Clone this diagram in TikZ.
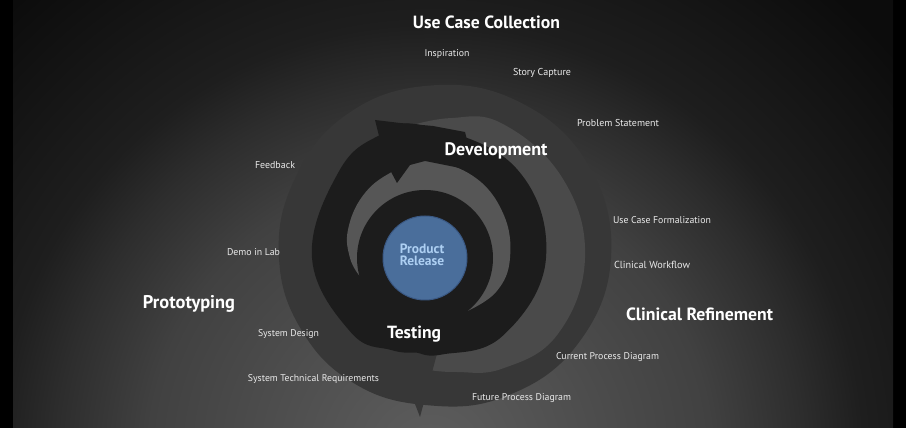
\documentclass[tikz,border=0pt]{standalone}
\usepackage{fontspec}
\setmainfont{PT Sans}
\usetikzlibrary{calc}
\definecolor{bgA}{HTML}{5E5E5E}
\definecolor{bgB}{HTML}{414141}
\definecolor{bgC}{HTML}{2D2D2D}
\definecolor{bgD}{HTML}{1E1E1E}
\definecolor{bgE}{HTML}{0C0C0C}
\definecolor{darkband}{HTML}{373737}
\definecolor{midband}{HTML}{4A4A4A}
\definecolor{blackband}{HTML}{1C1C1C}
\definecolor{crescentc}{HTML}{565656}
\definecolor{bluefill}{HTML}{4A6E9B}
\definecolor{blueedge}{HTML}{3A5883}
\definecolor{bluetext}{HTML}{ADCFF2}
\definecolor{labelc}{HTML}{EAEAEA}
\pgfdeclareradialshading{bgshade}{\pgfpoint{0bp}{0bp}}{color(0bp)=(bgA); color(10.06bp)=(bgB); color(13.35bp)=(bgC); color(15.5bp)=(bgD); color(22bp)=(bgE); color(50bp)=(bgE)}
\newcommand\fitto[2]{\resizebox{#1pt}{!}{#2}}
\tikzset{
  lbl/.style={text=labelc, inner sep=0pt, font=\fontsize{9}{10}\selectfont},
  hdl/.style={text=white, inner sep=0pt, font=\bfseries\fontsize{14}{16}\selectfont},
  prod/.style={text=bluetext, inner sep=0pt, align=center, font=\bfseries\fontsize{13.5}{12}\selectfont}
}
\begin{document}
\begin{tikzpicture}[x=1pt,y=1pt]
\useasboundingbox (0,0) rectangle (906,428);
\fill[black] (0,0) rectangle (906,428);
\begin{scope}
  \clip (13,0) rectangle (893,428);
  \shade[shading=bgshade] (430,-30) circle (700);
\end{scope}
\begin{scope}[shift={(425,170)}]
  % outer dark band
  \fill[darkband] plot[smooth cycle, tension=0.7] coordinates {(-90:147) (-60:160) (-30:175) (0:186) (30:188) (60:182) (90:172) (120:163) (150:152) (180:146) (210:143) (240:144)};
  % medium gray crescent on the right
  \fill[midband] plot[smooth, tension=0.7] coordinates {(100:132) (80:142) (60:155) (30:159) (0:160) (-30:153) (-55:135) (-75:118) (-88:112)} -- (-88:88) arc[start angle=-88, end angle=100, radius=88] -- cycle;
  % dark arrowhead at bottom
  \fill[darkband] (-30,-94) -- (13,-92) -- (-5,-159) -- cycle;
  % black ring
  \fill[blackband] plot[smooth cycle, tension=0.7] coordinates {(-95:95) (-80:98) (-45:110) (0:121) (45:128) (90:132) (110:131) (135:122) (180:113) (225:105) (250:98) (265:95)};
  % inner gray crescent
  \fill[crescentc] plot[smooth, tension=0.7] coordinates {(195:68) (180:75) (160:82) (135:88) (112:92) (90:97) (60:95) (30:90) (0:85) (-25:79) (-51:68)} -- (0,0) -- cycle;
  % black arrowhead at top left
  \fill[blackband] (-50,138) -- (-25,135) -- (8,132) -- (40,126) -- (50,87) -- (0,97) -- (-15,93) -- (-28,75) -- (-36,90) -- (-46,122) -- cycle;
  % inner black disc
  \fill[blackband] (0,0) circle (68);
  % blue centre
  \fill[bluefill, draw=blueedge, line width=1pt] (0,0) circle (42);
\end{scope}
\node[prod] (prodrel) at (422,173) {Product\\Release};
\node[hdl] (ucc) at (486.5,406) {\fitto{147}{Use Case Collection}};
\node[hdl] (dev) at (496,277) {\fitto{103}{Development}};
\node[hdl] (proto) at (189,124) {\fitto{92}{Prototyping}};
\node[hdl] (clinref) at (699.5,114) {\fitto{147}{Clinical Refinement}};
\node[hdl] (test) at (414,94) {\fitto{54}{Testing}};
\node[lbl] (insp) at (447,374) {\fitto{45}{Inspiration}};
\node[lbl] (story) at (542,355) {\fitto{58}{Story Capture}};
\node[lbl] (prob) at (618,305) {\fitto{82}{Problem Statement}};
\node[lbl] (feed) at (275,263) {\fitto{40}{Feedback}};
\node[lbl] (ucf) at (662,208) {\fitto{98}{Use Case Formalization}};
\node[lbl] (demo) at (253.5,176) {\fitto{53}{Demo in Lab}};
\node[lbl] (cw) at (652,163) {\fitto{76}{Clinical Workflow}};
\node[lbl] (sd) at (288.5,94) {\fitto{61}{System Design}};
\node[lbl] (cpd) at (607.5,71) {\fitto{103}{Current Process Diagram}};
\node[lbl] (str) at (313.5,49) {\fitto{131}{System Technical Requirements}};
\node[lbl] (fpd) at (521.5,30) {\fitto{99}{Future Process Diagram}};
\end{tikzpicture}
\end{document}
